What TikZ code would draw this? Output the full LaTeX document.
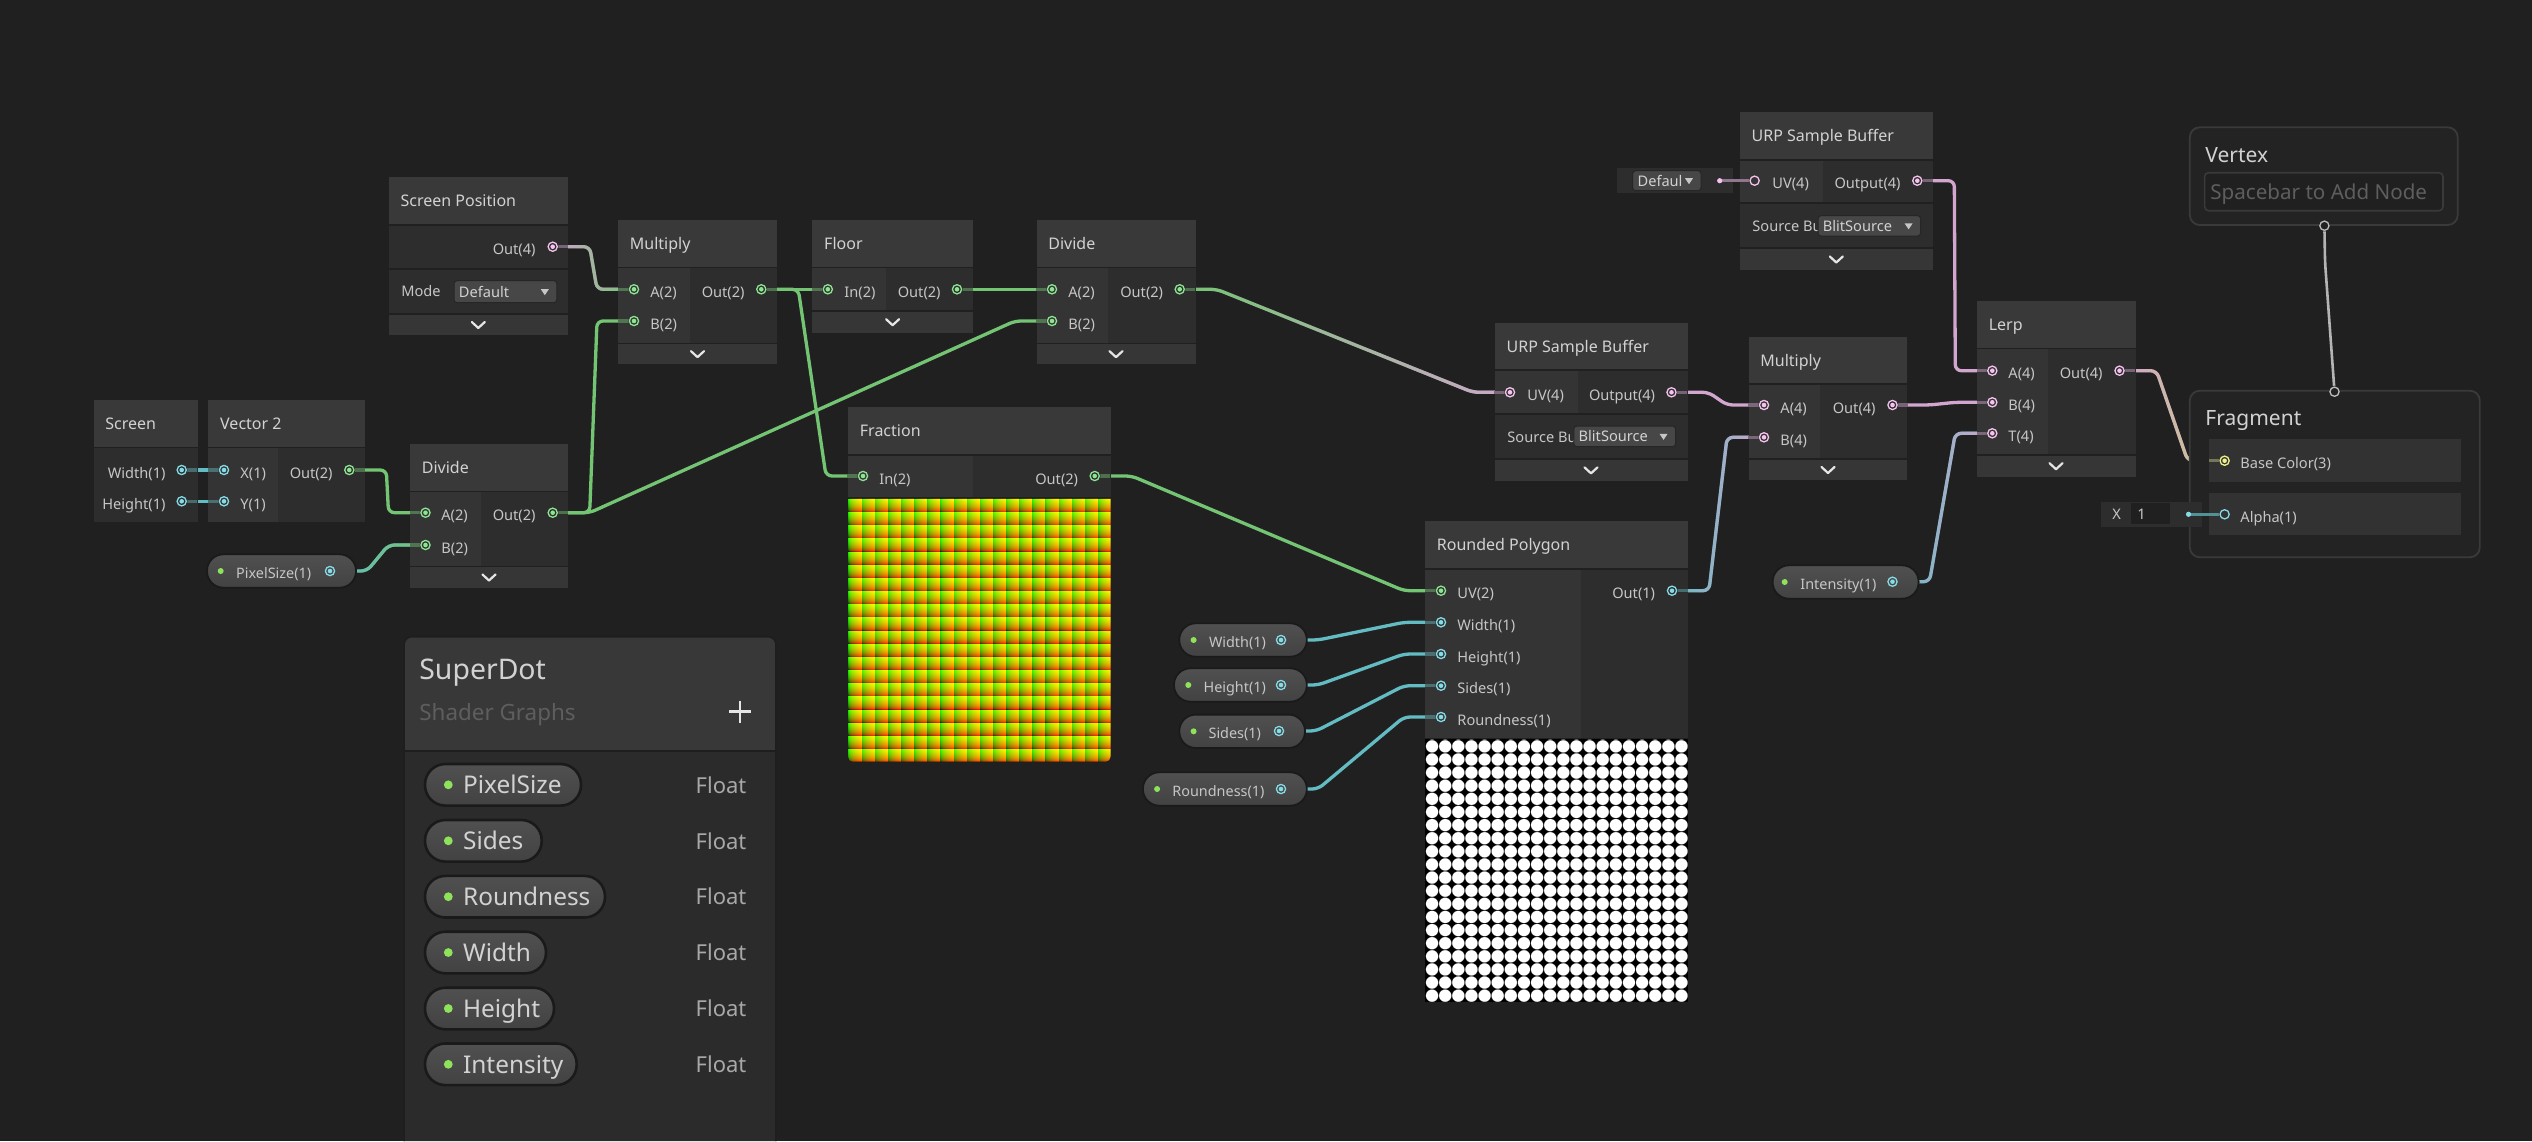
\documentclass[tikz,border=0pt]{standalone}
\usepackage{fontspec}
\setmainfont{Noto Sans}
\usetikzlibrary{calc,fadings}
\definecolor{bg}{HTML}{202020}
\definecolor{hdr}{HTML}{393939}
\definecolor{ibody}{HTML}{343434}
\definecolor{obody}{HTML}{2D2D2D}
\definecolor{cbar}{HTML}{363636}
\definecolor{txt}{HTML}{D2D2D2}
\definecolor{ltxt}{HTML}{C6C6C6}
\definecolor{chevc}{HTML}{E6E6E6}
\definecolor{pgreen}{HTML}{8DE592}
\definecolor{pcyan}{HTML}{86DCE6}
\definecolor{ppink}{HTML}{F6C2EE}
\definecolor{pyellow}{HTML}{EEF08A}
\definecolor{pgrey}{HTML}{BDBDBD}
\definecolor{wgreen}{HTML}{74C573}
\definecolor{wcyan}{HTML}{63BCC3}
\definecolor{wpink}{HTML}{D2A6CE}
\definecolor{wyellow}{HTML}{CACB86}
\definecolor{wgrey}{HTML}{B4B4B4}
\definecolor{pilltop}{HTML}{505050}
\definecolor{pillbot}{HTML}{424242}
\definecolor{pillb}{HTML}{1A1A1A}
\definecolor{dotg}{HTML}{8FE35A}
\definecolor{ddf}{HTML}{474747}
\definecolor{ddb}{HTML}{262626}
\definecolor{bbhdr}{HTML}{383838}
\definecolor{bbbody}{HTML}{2B2B2B}
\definecolor{bbline}{HTML}{1E1E1E}
\definecolor{blkf}{HTML}{232323}
\definecolor{blkb}{HTML}{3A3A3A}
\definecolor{rowf}{HTML}{323232}
\definecolor{greytxt}{HTML}{5E5E5E}
\definecolor{flt}{HTML}{A8A8A8}
\tikzfading[name=fadeinR, left color=transparent!100, right color=transparent!0]
\pgfdeclarefunctionalshading{fracgrid}{\pgfpoint{0bp}{0bp}}{\pgfpoint{100bp}{100bp}}{}{
  25 sub 0.4 mul dup floor sub 0.4545 exp
  exch
  25 sub 0.4 mul dup floor sub 0.4545 exp
  exch 0
}
\pgfdeclarefunctionalshading{dotgrid}{\pgfpoint{0bp}{0bp}}{\pgfpoint{100bp}{100bp}}{}{
  25 sub 0.4 mul dup floor sub 0.5 sub dup mul
  exch
  25 sub 0.4 mul dup floor sub 0.5 sub dup mul
  add sqrt
  0.47 exch sub 12 mul 0.5 add
  dup abs add 0.5 mul
  dup 1 sub abs neg exch 1 add add 0.5 mul
  dup dup
}
\tikzset{
  ttl/.style={anchor=base west, inner sep=0pt, text=txt, font=\fontsize{8}{9}\selectfont},
  lbl/.style={anchor=base west, inner sep=0pt, text=ltxt, font=\fontsize{7.3}{8}\selectfont},
  lble/.style={lbl, anchor=base east},
  plbl/.style={anchor=base west, inner sep=0pt, text=ltxt, font=\fontsize{7.2}{8}\selectfont},
  bblbl/.style={anchor=base west, inner sep=0pt, text=txt, font=\fontsize{12.2}{13}\selectfont},
  fltxt/.style={anchor=base west, inner sep=0pt, text=flt, font=\fontsize{11}{12}\selectfont},
  wire/.style={line width=1.65pt, rounded corners=3pt, to path={-- ++(37,0) -- ($(\tikztotarget)+(-37,0)$) -- (\tikztotarget)}},
  sline/.style={line width=1.65pt},
}
\newcommand\sgnode[8]{%
  \fill[hdr] (#2,#4) rectangle (#3,#5);
  \fill[obody] (#2,#5+1.5) rectangle (#3,#6);
  \ifdim #7pt>#2pt \fill[ibody] (#2,#5+1.5) rectangle (#7,#6);\fi
  \node[ttl] (#1-title) at (#2+11.5,{(#4+#5)/2+6}) {#8};
}
\newcommand\sgbar[5]{%
  \fill[cbar] (#1,#3) rectangle (#2,#4);
  \draw[chevc, line width=1.1pt, line cap=round, line join=round] ({#5-6.5},{(#3+#4)/2-3}) -- (#5,{(#3+#4)/2+3}) -- ({#5+6.5},{(#3+#4)/2-3});
}
\newcommand\sgport[3]{%
  \fill[#3] (#1) circle (2.9pt);
  \draw[#2, line width=0.65pt] (#1) circle (2.3pt);
  \fill[#2] (#1) circle (1.15pt);
}
\newcommand\sghport[3]{%
  \fill[#3] (#1) circle (2.9pt);
  \draw[#2, line width=0.65pt] (#1) circle (2.3pt);
}
\newcommand\sgstub[3]{\draw[line width=1.65pt, #3] (#1) -- ++(#2,0);}
\newcommand\sgwire[4]{%
  \draw[wire, #3] (#1) to (#2);
  \draw[wire, #4, path fading=fadeinR] (#1) to (#2);
}
\newcommand\sgpill[7]{%
  \draw[pillb, line width=0.9pt, top color=pilltop, bottom color=pillbot, rounded corners=8.2pt] (#2,#4-16.7) rectangle (#3,#4+16.7);
  \fill[dotg] (#5,#4) circle (1.5pt);
  \node[plbl] (#1) at (#6,#4+7.5) {#7};
}
\newcommand\sgbbpill[4]{%
  \draw[pillb, line width=1.3pt, top color=pilltop, bottom color=pillbot, rounded corners=10.2pt] (425,#3-20.8) rectangle (#2,#3+20.8);
  \fill[dotg] (448.3,#3) circle (2.2pt);
  \node[bblbl] (#1) at (462.7,#3+8.7) {#4};
  \node[fltxt] (#1-t) at (695.3,#3+8.2) {Float};
}
\newcommand\sgdrop[6]{%
  \draw[ddb, fill=ddf, rounded corners=1.5pt, line width=0.5pt] (#2,#4) rectangle (#3,#5);
  \node[lbl, text=txt] (#1) at (#2+4.5,{(#4+#5)/2+5.5}) {#6};
  \fill[ltxt] ({#3-16},{(#4+#5)/2-2.5}) -- ({#3-8},{(#4+#5)/2-2.5}) -- ({#3-12},{(#4+#5)/2+3.5}) -- cycle;
}
\begin{document}
\begin{tikzpicture}[x=0.5pt,y=-0.5pt]
\useasboundingbox (0,0) rectangle (2532,1141);
\fill[bg] (0,0) rectangle (2532,1141);
% ---------- port coordinates
\coordinate (scr-w) at (181.7,470);
\coordinate (scr-h) at (181.7,501.3);
\coordinate (v2-x) at (224,470);
\coordinate (v2-y) at (224,501.3);
\coordinate (v2-out) at (349.3,470);
\coordinate (sp-out) at (552.7,246.7);
\coordinate (d1-a) at (425.5,512.7);
\coordinate (d1-b) at (425.5,545);
\coordinate (d1-out) at (552.7,512.7);
\coordinate (px-p) at (330,571);
\coordinate (m1-a) at (634,289.3);
\coordinate (m1-b) at (634,321);
\coordinate (m1-out) at (761.3,289.3);
\coordinate (fl-in) at (827.8,289.3);
\coordinate (fl-out) at (957,289.3);
\coordinate (d2-a) at (1052,289.3);
\coordinate (d2-b) at (1052,321);
\coordinate (d2-out) at (1179.7,289.3);
\coordinate (fr-in) at (863,476);
\coordinate (fr-out) at (1094.7,476);
\coordinate (rp-uv) at (1441,590.7);
\coordinate (rp-w) at (1441,622.3);
\coordinate (rp-h) at (1441,654);
\coordinate (rp-s) at (1441,685.7);
\coordinate (rp-r) at (1441,717);
\coordinate (rp-out) at (1672,590.7);
\coordinate (w-p) at (1281,640);
\coordinate (h-p) at (1281,685);
\coordinate (s-p) at (1279,731);
\coordinate (r-p) at (1281,789);
\coordinate (u1-uv) at (1754.6,180.7);
\coordinate (u1-dot) at (1719.7,180.7);
\coordinate (u1-out) at (1917.3,180.7);
\coordinate (u2-uv) at (1510,392.3);
\coordinate (u2-out) at (1671.5,392.3);
\coordinate (m2-a) at (1764,405);
\coordinate (m2-b) at (1764,437.3);
\coordinate (m2-out) at (1892.5,405);
\coordinate (lp-a) at (1992.3,370.7);
\coordinate (lp-b) at (1992.3,402.3);
\coordinate (lp-t) at (1992.3,433.3);
\coordinate (lp-out) at (2119.5,370.7);
\coordinate (i-p) at (1892.5,581.7);
\coordinate (vx-p) at (2324.4,225.7);
\coordinate (vx-bend) at (2325,262);
\coordinate (fg-p) at (2334.5,391.7);
\coordinate (fg-bc) at (2224.6,460.7);
\coordinate (fg-al) at (2224.6,514.3);
\coordinate (al-dot) at (2188.5,514.3);
% ---------- wires
\draw[sline, wcyan] (scr-w) -- (v2-x);
\draw[sline, wcyan] (scr-h) -- (v2-y);
\draw[wire, wgreen] (v2-out) to (d1-a);
\sgwire{px-p}{d1-b}{wcyan}{wgreen}
\draw[wire, wgreen] (d1-out) to (m1-b);
\draw[wire, wgreen] (d1-out) to (d2-b);
\sgwire{sp-out}{m1-a}{wpink}{wgreen}
\draw[sline, wgreen] (m1-out) -- (fl-in);
\draw[wire, wgreen] (m1-out) to (fr-in);
\draw[wire, wgreen] (fl-out) to (d2-a);
\sgwire{d2-out}{u2-uv}{wgreen}{wpink}
\draw[wire, wgreen] (fr-out) to (rp-uv);
\draw[wire, wcyan] (w-p) to (rp-w);
\draw[wire, wcyan] (h-p) to (rp-h);
\draw[wire, wcyan] (s-p) to (rp-s);
\draw[wire, wcyan] (r-p) to (rp-r);
\sgwire{rp-out}{m2-b}{wcyan}{wpink}
\draw[wire, wpink] (u2-out) to (m2-a);
\draw[wire, wpink] (m2-out) to (lp-b);
\sgwire{i-p}{lp-t}{wcyan}{wpink}
\draw[wire, wpink] (u1-out) to (lp-a);
\sgwire{lp-out}{fg-bc}{wpink}{wyellow}
\draw[wgrey, line width=1.3pt, rounded corners=4pt] (vx-p) -- (vx-bend) -- (fg-p);
% ---------- nodes
% Screen
\sgnode{scr}{93.5}{198.2}{400}{446.7}{521.7}{93.5}{Screen}
\node[lble] (scr-wl) at (166,478) {Width(1)};
\node[lble] (scr-hl) at (166,509.3) {Height(1)};
% Vector 2
\sgnode{v2}{208.3}{364.9}{400}{446.7}{521.7}{277.6}{Vector 2}
\node[lbl] (v2-xl) at (240,478) {X(1)};
\node[lbl] (v2-yl) at (240,509.3) {Y(1)};
\node[lble] (v2-ol) at (333,478) {Out(2)};
% Screen Position
\sgnode{sp}{388.7}{568.3}{177.3}{224}{268.3}{388.7}{Screen Position}
\node[lble] (sp-ol) at (536,254.7) {Out(4)};
\fill[obody] (388.7,269.6) rectangle (568.3,313.3);
\node[lbl] (sp-mode) at (401,296.5) {Mode};
\sgdrop{sp-dd}{454}{556.8}{280.7}{302.7}{Default}
\sgbar{388.7}{568.3}{315}{335}{478.3}
% Divide 1
\sgnode{d1}{410}{568.3}{443.7}{490.7}{566}{481}{Divide}
\node[lbl] (d1-al) at (441,520.7) {A(2)};
\node[lbl] (d1-bl) at (441,553) {B(2)};
\node[lble] (d1-ol) at (536,520.7) {Out(2)};
\sgbar{410}{568.3}{567.3}{587.7}{489}
% Multiply 1
\sgnode{m1}{618}{777}{220}{266.7}{342.7}{690}{Multiply}
\node[lbl] (m1-al) at (650,297.3) {A(2)};
\node[lbl] (m1-bl) at (650,329) {B(2)};
\node[lble] (m1-ol) at (745,297.3) {Out(2)};
\sgbar{618}{777}{344}{364.3}{697.5}
% Floor
\sgnode{fl}{812.3}{972.9}{220}{266.7}{310}{886}{Floor}
\node[lbl] (fl-il) at (844,297.3) {In(2)};
\node[lble] (fl-ol) at (941,297.3) {Out(2)};
\sgbar{812.3}{972.9}{311.7}{332.7}{892.6}
% Divide 2
\sgnode{d2}{1036.5}{1195.5}{220}{266.7}{342.7}{1108}{Divide}
\node[lbl] (d2-al) at (1068,297.3) {A(2)};
\node[lbl] (d2-bl) at (1068,329) {B(2)};
\node[lble] (d2-ol) at (1163.5,297.3) {Out(2)};
\sgbar{1036.5}{1195.5}{344}{364.3}{1116}
% Fraction
\sgnode{fr}{848}{1110.5}{406.7}{454}{497}{972.5}{Fraction}
\node[lbl] (fr-il) at (879,484) {In(2)};
\node[lble] (fr-ol) at (1078.5,484) {Out(2)};
\shade[shading=fracgrid] (848,498.5) -- (1110.5,498.5) [rounded corners=2.5pt] -- (1110.5,761.7) -- (848,761.7) [sharp corners] -- cycle;
% URP Sample Buffer 1
\sgnode{u1}{1739.8}{1932.7}{111.7}{159}{202.3}{1822.9}{URP Sample Buffer}
\node[lbl] (u1-uvl) at (1772,188.7) {UV(4)};
\node[lble] (u1-ol) at (1901,188.7) {Output(4)};
\fill[obody] (1739.8,204) rectangle (1932.7,247.3);
\node[lbl] (u1-src) at (1752,231.5) {Source Bu};
\sgdrop{u1-dd}{1818}{1920.6}{215.7}{236}{BlitSource}
\sgbar{1739.8}{1932.7}{249}{270}{1836.3}
\fill[obody] (1617.3,168.3) rectangle (1733.1,193.3);
\sgdrop{u1-def}{1632.7}{1701}{170.7}{190.7}{Defaul}
% URP Sample Buffer 2
\sgnode{u2}{1494.7}{1687.6}{322.7}{369.3}{413.3}{1577.8}{URP Sample Buffer}
\node[lbl] (u2-uvl) at (1527,400.3) {UV(4)};
\node[lble] (u2-ol) at (1655.5,400.3) {Output(4)};
\fill[obody] (1494.7,415) rectangle (1687.6,458.3);
\node[lbl] (u2-src) at (1507,442.5) {Source Bu};
\sgdrop{u2-dd}{1573.8}{1675.5}{426}{446.7}{BlitSource}
\sgbar{1494.7}{1687.6}{460}{480.7}{1591}
% Multiply 2
\sgnode{m2}{1748.5}{1907.2}{336.7}{383.3}{458.3}{1820.2}{Multiply}
\node[lbl] (m2-al) at (1780,413) {A(4)};
\node[lbl] (m2-bl) at (1780,445.3) {B(4)};
\node[lble] (m2-ol) at (1876,413) {Out(4)};
\sgbar{1748.5}{1907.2}{460}{480}{1828}
% Lerp
\sgnode{lp}{1976.9}{2135.6}{301}{347.7}{454}{2047.9}{Lerp}
\node[lbl] (lp-al) at (2008,378.7) {A(4)};
\node[lbl] (lp-bl) at (2008,410.3) {B(4)};
\node[lbl] (lp-tl) at (2008,441.3) {T(4)};
\node[lble] (lp-ol) at (2103,378.7) {Out(4)};
\sgbar{1976.9}{2135.6}{455.7}{476.7}{2056}
% Rounded Polygon
\sgnode{rp}{1425}{1687.5}{521}{568.3}{738.3}{1581}{Rounded Polygon}
\node[lbl] (rp-uvl) at (1457,598.7) {UV(2)};
\node[lbl] (rp-wl) at (1457,630.3) {Width(1)};
\node[lbl] (rp-hl) at (1457,662) {Height(1)};
\node[lbl] (rp-sl) at (1457,693.7) {Sides(1)};
\node[lbl] (rp-rl) at (1457,725) {Roundness(1)};
\node[lble] (rp-ol) at (1655.5,598.7) {Out(1)};
\shade[shading=dotgrid] (1425,739.3) rectangle (1687.5,1001.7);
% property pills
\sgpill{px-l}{207}{356}{571}{220.7}{235.8}{PixelSize(1)}
\sgpill{w-l}{1179.3}{1306.8}{640}{1193.6}{1208.6}{Width(1)}
\sgpill{h-l}{1174}{1306.8}{685}{1188.3}{1203.2}{Height(1)}
\sgpill{s-l}{1179.3}{1305}{731.3}{1193.6}{1208.2}{Sides(1)}
\sgpill{r-l}{1142.9}{1306.8}{789}{1157.1}{1172}{Roundness(1)}
\sgpill{i-l}{1772.6}{1918.6}{582}{1784.7}{1800}{Intensity(1)}
% Vertex block
\draw[blkb, fill=blkf, line width=0.9pt, rounded corners=5pt] (2189.8,127.3) rectangle (2457.7,225);
\node[anchor=base west, inner sep=0pt, text=txt, font=\fontsize{10.5}{12}\selectfont] (vx-title) at (2205,162.4) {Vertex};
\draw[blkb, fill=bg, line width=0.8pt, rounded corners=2pt] (2204.6,172.7) rectangle (2443,210.7);
\node[anchor=base west, inner sep=0pt, text=greytxt, font=\fontsize{10.3}{12}\selectfont] (vx-ph) at (2210,199.5) {Spacebar to Add Node};
% Fragment block
\draw[blkb, fill=blkf, line width=0.9pt, rounded corners=5pt] (2189.8,390.7) rectangle (2479.8,557.3);
\node[anchor=base west, inner sep=0pt, text=txt, font=\fontsize{10.5}{12}\selectfont] (fg-title) at (2205,425.6) {Fragment};
\fill[rowf] (2208.6,439.3) rectangle (2461,481.7);
\fill[rowf] (2208.6,493.3) rectangle (2461,535);
\node[lbl] (fg-bcl) at (2240,468.5) {Base Color(3)};
\node[lbl] (fg-all) at (2240,522.5) {Alpha(1)};
\fill[obody] (2101.4,501.7) rectangle (2201.9,526.7);
\node[lbl] (al-x) at (2112,519.5) {X};
\fill[bg] (2131,502.7) rectangle (2169.8,524);
\node[lbl] (al-v) at (2137,519.5) {1};
% ---------- port stubs
\sgstub{scr-w}{15.6}{wcyan!45!obody}
\sgstub{scr-h}{15.6}{wcyan!45!obody}
\sgstub{v2-x}{-15.6}{wcyan!45!ibody}
\sgstub{v2-y}{-15.6}{wcyan!45!ibody}
\sgstub{v2-out}{15.6}{wgreen!45!obody}
\sgstub{sp-out}{15.6}{wpink!45!obody}
\sgstub{d1-a}{-15.6}{wgreen!45!ibody}
\sgstub{d1-b}{-15.6}{wgreen!45!ibody}
\sgstub{d1-out}{15.6}{wgreen!45!obody}
\sgstub{m1-a}{-15.6}{wgreen!45!ibody}
\sgstub{m1-b}{-15.6}{wgreen!45!ibody}
\sgstub{m1-out}{15.6}{wgreen!45!obody}
\sgstub{fl-in}{-15.6}{wgreen!45!ibody}
\sgstub{fl-out}{15.6}{wgreen!45!obody}
\sgstub{d2-a}{-15.6}{wgreen!45!ibody}
\sgstub{d2-b}{-15.6}{wgreen!45!ibody}
\sgstub{d2-out}{15.6}{wgreen!45!obody}
\sgstub{fr-in}{-15.6}{wgreen!45!ibody}
\sgstub{fr-out}{15.6}{wgreen!45!obody}
\sgstub{rp-uv}{-15.6}{wgreen!45!ibody}
\sgstub{rp-w}{-15.6}{wcyan!45!ibody}
\sgstub{rp-h}{-15.6}{wcyan!45!ibody}
\sgstub{rp-s}{-15.6}{wcyan!45!ibody}
\sgstub{rp-r}{-15.6}{wcyan!45!ibody}
\sgstub{rp-out}{15.6}{wcyan!45!obody}
\sgstub{u1-out}{15.6}{wpink!45!obody}
\sgstub{u2-uv}{-15.6}{wpink!45!ibody}
\sgstub{u2-out}{15.6}{wpink!45!obody}
\sgstub{m2-a}{-15.6}{wpink!45!ibody}
\sgstub{m2-b}{-15.6}{wpink!45!ibody}
\sgstub{m2-out}{15.6}{wpink!45!obody}
\sgstub{lp-a}{-15.6}{wpink!45!ibody}
\sgstub{lp-b}{-15.6}{wpink!45!ibody}
\sgstub{lp-t}{-15.6}{wpink!45!ibody}
\sgstub{lp-out}{15.6}{wpink!45!obody}
\sgstub{fg-bc}{-16}{wyellow!45!rowf}
\draw[sline, wpink!60!obody] (u1-dot) -- (u1-uv);
\draw[sline, wcyan!70!obody] (al-dot) -- (fg-al);
% ---------- port glyphs
\sgport{scr-w}{pcyan}{obody}
\sgport{scr-h}{pcyan}{obody}
\sgport{v2-x}{pcyan}{ibody}
\sgport{v2-y}{pcyan}{ibody}
\sgport{v2-out}{pgreen}{obody}
\sgport{sp-out}{ppink}{obody}
\sgport{d1-a}{pgreen}{ibody}
\sgport{d1-b}{pgreen}{ibody}
\sgport{d1-out}{pgreen}{obody}
\sgport{px-p}{pcyan}{pillbot!50!pilltop}
\sgport{m1-a}{pgreen}{ibody}
\sgport{m1-b}{pgreen}{ibody}
\sgport{m1-out}{pgreen}{obody}
\sgport{fl-in}{pgreen}{ibody}
\sgport{fl-out}{pgreen}{obody}
\sgport{d2-a}{pgreen}{ibody}
\sgport{d2-b}{pgreen}{ibody}
\sgport{d2-out}{pgreen}{obody}
\sgport{fr-in}{pgreen}{ibody}
\sgport{fr-out}{pgreen}{obody}
\sgport{rp-uv}{pgreen}{ibody}
\sgport{rp-w}{pcyan}{ibody}
\sgport{rp-h}{pcyan}{ibody}
\sgport{rp-s}{pcyan}{ibody}
\sgport{rp-r}{pcyan}{ibody}
\sgport{rp-out}{pcyan}{obody}
\sgport{w-p}{pcyan}{pillbot!50!pilltop}
\sgport{h-p}{pcyan}{pillbot!50!pilltop}
\sgport{s-p}{pcyan}{pillbot!50!pilltop}
\sgport{r-p}{pcyan}{pillbot!50!pilltop}
\sgport{i-p}{pcyan}{pillbot!50!pilltop}
\sghport{u1-uv}{ppink}{ibody}
\fill[ppink] (u1-dot) circle (1.3pt);
\sgport{u1-out}{ppink}{obody}
\sgport{u2-uv}{ppink}{ibody}
\sgport{u2-out}{ppink}{obody}
\sgport{m2-a}{ppink}{ibody}
\sgport{m2-b}{ppink}{ibody}
\sgport{m2-out}{ppink}{obody}
\sgport{lp-a}{ppink}{ibody}
\sgport{lp-b}{ppink}{ibody}
\sgport{lp-t}{ppink}{ibody}
\sgport{lp-out}{ppink}{obody}
\sgport{fg-bc}{pyellow}{rowf}
\sghport{fg-al}{pcyan}{rowf}
\fill[pcyan] (al-dot) circle (1.3pt);
\sghport{vx-p}{pgrey}{blkf}
\sghport{fg-p}{pgrey}{blkf}
% ---------- blackboard
\fill[bbbody] (404,640) -- (404,1141) -- (776,1141) -- (776,640) [rounded corners=4pt] -- (776,636.7) -- (404,636.7) [sharp corners] -- cycle;
\fill[bbhdr, rounded corners=4pt] (404,636.7) rectangle (776,760);
\fill[bbbody] (404,751) rectangle (776,765);
\draw[bbline, line width=0.8pt] (404,751) -- (776,751);
\draw[bbline, line width=0.8pt, rounded corners=4pt] (404,1141) -- (404,636.7) -- (776,636.7) -- (776,1141);
\node[anchor=base west, inner sep=0pt, text=txt, font=\fontsize{14.2}{16}\selectfont] (bb-title) at (419,679.3) {SuperDot};
\node[anchor=base west, inner sep=0pt, text=greytxt, font=\fontsize{11.2}{13}\selectfont] (bb-sub) at (419,720.5) {Shader Graphs};
\draw[chevc, line width=1.3pt] (729,711.7) -- (751,711.7) (740,700.7) -- (740,722.7);
\sgbbpill{bb-px}{581}{784.8}{PixelSize}
\sgbbpill{bb-si}{541.7}{840.8}{Sides}
\sgbbpill{bb-ro}{605}{896.7}{Roundness}
\sgbbpill{bb-wi}{546}{952.5}{Width}
\sgbbpill{bb-he}{554}{1008.5}{Height}
\sgbbpill{bb-in}{576.7}{1064.3}{Intensity}
\end{tikzpicture}
\end{document}
